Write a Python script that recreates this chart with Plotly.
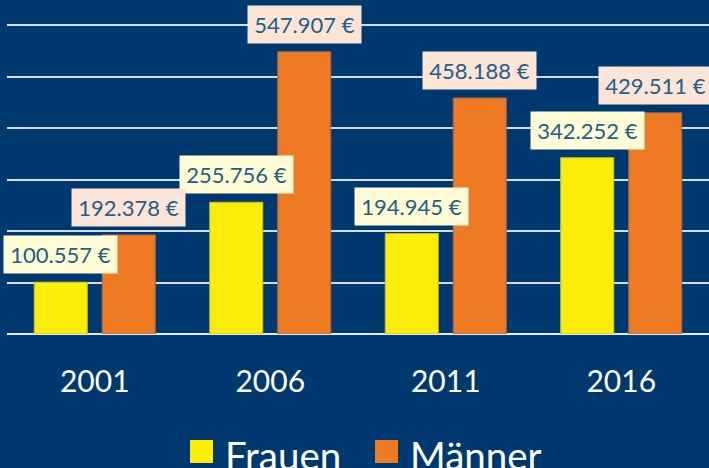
import plotly.graph_objects as go

categories = ["2001", "2006", "2011", "2016"]
series_names = ["Frauen", "Männer"]
frauen = [100557, 255756, 194945, 342252]
maenner = [192378, 547907, 458188, 429511]

bar_colors = ["#FCEE09", "#EE7B24"]
bar_edges = ["#C8BC2A", "#A8683A"]
label_bg = ["#FFFCD6", "#FCE4D6"]
label_color = "#215E8A"
bg = "#003870"

W, H = 709, 468
ml, mr, mt, mb = 7, 0, 18, 134
grid_top = 600000
grid_top_px = 309  # pixels from baseline to the top gridline
bargap, bargroupgap = 0.225, 0.22

fig = go.Figure()
for name, vals, col, edge in zip(series_names, [frauen, maenner], bar_colors, bar_edges):
    fig.add_trace(go.Bar(
        x=categories, y=vals, name=name,
        marker=dict(color=col, line=dict(color=edge, width=1)),
        showlegend=False,
    ))

plot_w = W - ml - mr
plot_h = H - mt - mb
cat_w = plot_w / len(categories)
slot = cat_w * (1 - bargap) / 2
offsets = [-slot / 2, slot / 2]

def fmt(v):
    return f"{v:,}".replace(",", ".") + " €"

annotations = []
for vals, off, bgc in zip([frauen, maenner], offsets, label_bg):
    for j, v in enumerate(vals):
        annotations.append(dict(
            x=j, y=v, xref="x", yref="y", xshift=off, yshift=8,
            yanchor="bottom", xanchor="center",
            text=fmt(v), showarrow=False,
            font=dict(family="Lato", size=22, color=label_color),
            bgcolor=bgc, width=105, height=29, borderpad=4,
        ))

def px_to_paper_y(py):
    return (H - mb - py) / plot_h
def px_to_paper_x(px):
    return (px - ml) / plot_w

shapes = []
legend_x = [190, 375]
for name, col, lx in zip(series_names, bar_colors, legend_x):
    shapes.append(dict(
        type="rect", xref="paper", yref="paper",
        x0=px_to_paper_x(lx), x1=px_to_paper_x(lx + 23),
        y0=px_to_paper_y(463), y1=px_to_paper_y(440),
        fillcolor=col, line=dict(width=0),
    ))
    annotations.append(dict(
        x=px_to_paper_x(lx + 32.5), y=px_to_paper_y(430), xref="paper", yref="paper",
        xanchor="left", yanchor="top", text=name, showarrow=False,
        font=dict(family="Lato", size=38.5, color="white"),
    ))

fig.update_layout(
    width=W, height=H, autosize=False,
    margin=dict(l=ml, r=mr, t=mt, b=mb, pad=0, autoexpand=False),
    paper_bgcolor=bg, plot_bgcolor=bg,
    barmode="group", bargap=bargap, bargroupgap=bargroupgap,
    showlegend=False,
    annotations=annotations, shapes=shapes,
    xaxis=dict(
        type="category", categoryorder="array", categoryarray=categories,
        range=[-0.5, len(categories) - 0.5],
        showgrid=False, showline=False, zeroline=False,
        ticks="", ticklabelstandoff=27, automargin=False,
        tickfont=dict(family="Lato", size=30, color="white"),
    ),
    yaxis=dict(
        range=[0, grid_top * plot_h / grid_top_px], dtick=100000, showticklabels=False,
        showgrid=True, gridcolor="#D5DCE4", gridwidth=1.5,
        zeroline=True, zerolinecolor="#E8ECF0", zerolinewidth=2,
        showline=False, automargin=False,
    ),
)

fig.write_html("out.html", config={"displayModeBar": False},
               post_script="document.body.style.margin='0';")
